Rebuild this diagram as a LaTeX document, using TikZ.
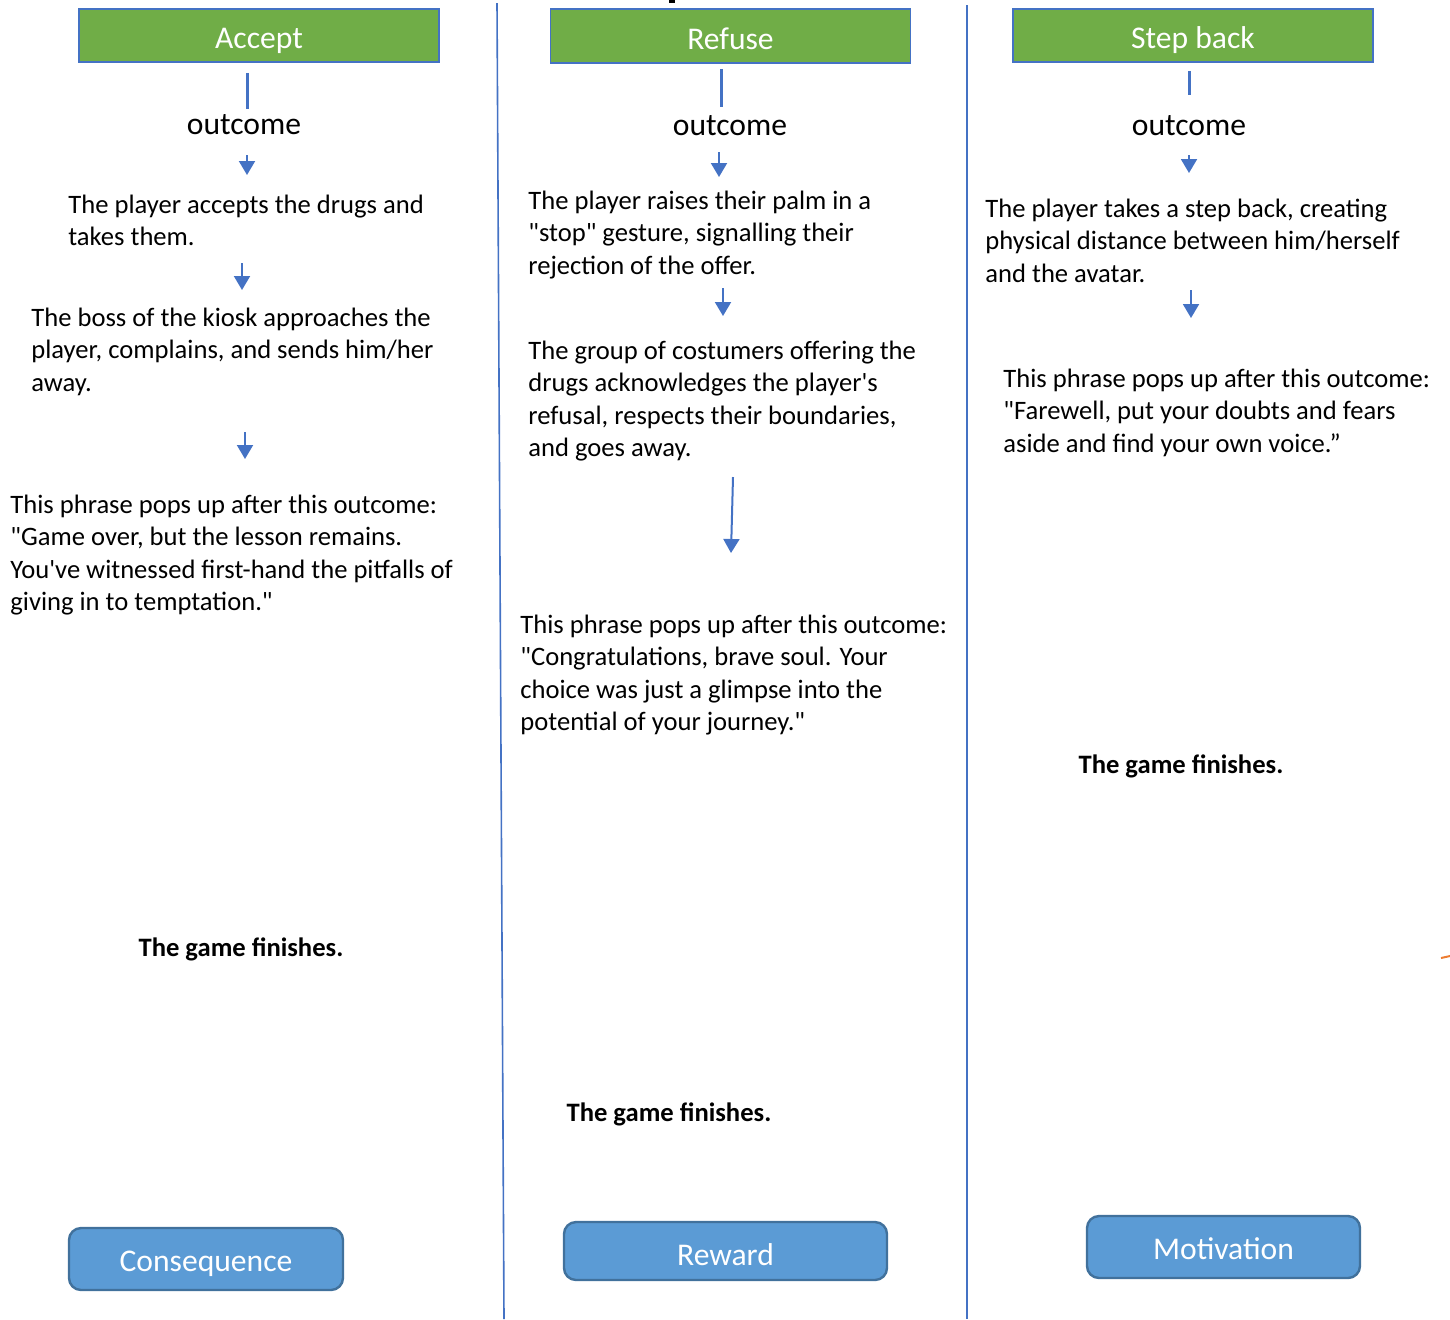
\documentclass[tikz,border=0pt]{standalone}
\usepackage{fontspec}
\setmainfont{Carlito}[Ligatures=TeXOff]
\usetikzlibrary{arrows.meta}
\definecolor{choicegreen}{HTML}{70AD47}
\definecolor{lineblue}{HTML}{4472C4}
\definecolor{btnblue}{HTML}{5B9BD5}
\definecolor{btnedge}{HTML}{41719C}
\definecolor{markorange}{HTML}{ED7D31}
\newcommand{\bodyfont}{\fontsize{13.3pt}{16.25pt}\selectfont}
\newcommand{\headfont}{\fontsize{15.8pt}{19pt}\selectfont}

\begin{document}
\begin{tikzpicture}[x=0.5pt, y=-0.5pt,
    choice/.style={draw=lineblue, line width=0.75pt, fill=choicegreen, text=white, font=\headfont, text height=13pt, text depth=0pt, minimum width=180pt, minimum height=26.5pt, inner sep=0pt},
    outcome/.style={font=\headfont, inner sep=0pt},
    txt/.style={font=\bodyfont, align=left, anchor=base west, inner sep=0pt},
    fin/.style={font=\bodyfont\bfseries, anchor=base, inner sep=0pt},
    button/.style={draw=btnedge, line width=1.2pt, fill=btnblue, rounded corners=6pt, text=white, font=\headfont, text height=12.5pt, text depth=0pt, minimum width=137pt, minimum height=31pt, inner sep=0pt},
    link/.style={draw=lineblue, line width=1.5pt},
    arr/.style={draw=lineblue, line width=1pt, -{Triangle[width=8pt,length=7pt]}}]
  \useasboundingbox (0,0) rectangle (1450,1319);

  % column dividers
  \draw[lineblue, line width=0.8pt] (497,3) -- (504,1319);
  \draw[lineblue, line width=0.8pt] (967,5) -- (967,1319);
  \fill (669,0) rectangle (675,3);
  \draw[markorange, line width=1pt] (1441,958) -- (1450,956);

  % Accept
  \node[choice] (acc) at (259,35.5) {Accept};
  \node[outcome] (acc-out) at (244,125) {outcome};
  \draw[link] ([xshift=-6pt, yshift=-5pt]acc.south) -- ([xshift=1.5pt, yshift=3pt]acc-out.north);
  \foreach \n/\xa/\ya/\xb/\yb in {1/247/155/247/175, 2/242/263/242/290, 3/245/432/245/459} {
    \coordinate (acc-a\n) at (\xa,\ya);
    \coordinate (acc-b\n) at (\xb,\yb);
    \draw[arr] (acc-a\n) -- (acc-b\n);
  }
  % base anchor sits on the last line
  \node[txt] (acc-t1) at (68,245.5) {The player accepts the drugs and\\takes them.};
  \node[txt] (acc-t2) at (31,391) {The boss of the kiosk approaches the\\player, complains, and sends him/her\\away.};
  \node[txt] (acc-t3) at (10,610.5) {This phrase pops up after this outcome:\\"Game over, but the lesson remains.\\You've witnessed first-hand the pitfalls of\\giving in to temptation."};
  \node[fin] (acc-fin) at (241,956) {The game finishes.};
  \node[button] (acc-btn) at (206,1259) {Consequence};

  % Refuse
  \node[choice, minimum height=27pt, text height=13.5pt] (ref) at (730.5,36) {Refuse};
  \node[outcome] (ref-out) at (730,126) {outcome};
  \draw[link] ([xshift=-4.75pt, yshift=-2.5pt]ref.south) -- ([xshift=-4.5pt, yshift=4.5pt]ref-out.north);
  \foreach \n/\xa/\ya/\xb/\yb in {1/719/152/719/177, 2/723/288/723/316, 3/733/477/731/553} {
    \coordinate (ref-a\n) at (\xa,\ya);
    \coordinate (ref-b\n) at (\xb,\yb);
    \draw[arr] (ref-a\n) -- (ref-b\n);
  }
  \node[txt] (ref-t1) at (528,274) {The player raises their palm in a\\"stop" gesture, signalling their\\rejection of the offer.};
  \node[txt] (ref-t2) at (528,456.5) {The group of costumers offering the\\drugs acknowledges the player's\\refusal, respects their boundaries,\\and goes away.};
  \node[txt] (ref-t3) at (520,730.5) {This phrase pops up after this outcome:\\"Congratulations, brave soul. Your\\choice was just a glimpse into the\\potential of your journey."};
  \node[fin] (ref-fin) at (669,1121) {The game finishes.};
  \node[button, minimum width=161.5pt, minimum height=29pt, text height=14pt] (ref-btn) at (725.5,1251) {Reward};

  % Step back
  \node[choice] (sb) at (1193,35.5) {Step back};
  \node[outcome] (sb-out) at (1189,126) {outcome};
  \draw[link] ([xshift=-2pt, yshift=-4pt]sb.south) -- ([yshift=10.5pt]sb-out.north);
  \foreach \n/\xa/\ya/\xb/\yb in {1/1189/155/1189/173, 2/1191/290/1191/318} {
    \coordinate (sb-a\n) at (\xa,\ya);
    \coordinate (sb-b\n) at (\xb,\yb);
    \draw[arr] (sb-a\n) -- (sb-b\n);
  }
  \node[txt] (sb-t1) at (985,282) {The player takes a step back, creating\\physical distance between him/herself\\and the avatar.};
  \node[txt] (sb-t2) at (1003,452) {This phrase pops up after this outcome:\\"Farewell, put your doubts and fears\\aside and find your own voice.”};
  \node[fin] (sb-fin) at (1181,773) {The game finishes.};
  \node[button, minimum width=136.5pt] (sb-btn) at (1223.5,1247) {Motivation};
\end{tikzpicture}
\end{document}
